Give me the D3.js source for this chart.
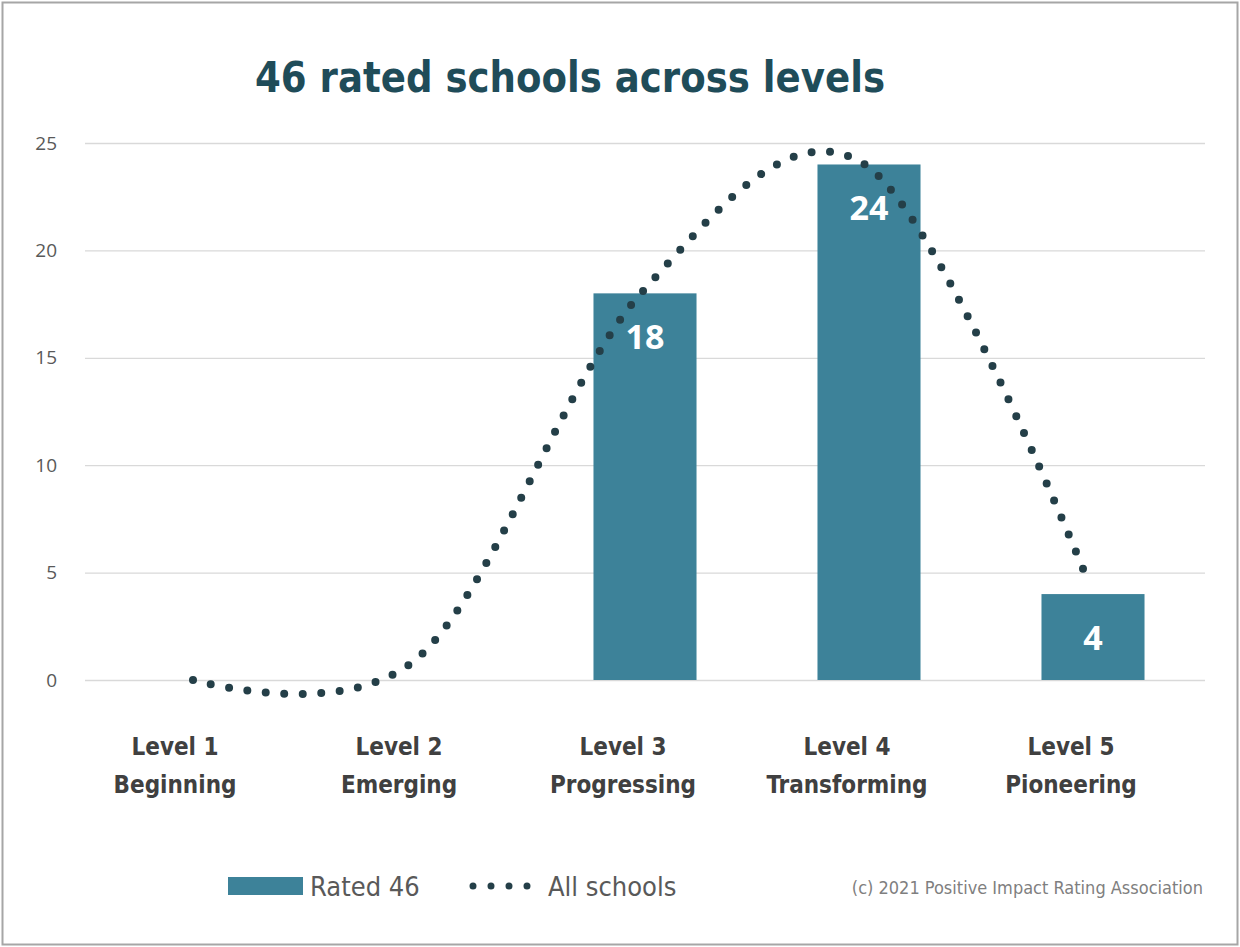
<!DOCTYPE html>
<html>
<head>
<meta charset="utf-8">
<script src="https://cdn.jsdelivr.net/npm/d3@7"></script>
<style>
  body { margin: 0; background: #fff; }
</style>
</head>
<body>
<div class="canvas"></div>
<script>
// data
const levels = ["Level 1", "Level 2", "Level 3", "Level 4", "Level 5"];
const levelNames = ["Beginning", "Emerging", "Progressing", "Transforming", "Pioneering"];
const rated46 = [0, 0, 18, 24, 4];
const allSchools = [0, 1, 18, 24, 4.5];
const yTicks = [0, 5, 10, 15, 20, 25];

const W = 1240, H = 947;
const barColor = "#3d8299";
const dotColor = "#243f48";

const svg = d3.select(".canvas").append("svg")
  .attr("width", W)
  .attr("height", H);

// outer frame
svg.append("rect")
  .attr("x", 2.5).attr("y", 2.5)
  .attr("width", W - 5).attr("height", H - 5)
  .attr("fill", "#fff")
  .attr("stroke", "#a6a6a6")
  .attr("stroke-width", 2);

// title
svg.append("text")
  .attr("x", 255)
  .attr("y", 92)
  .attr("fill", "#1f4c59")
  .attr("font-family", "DejaVu Sans Condensed, DejaVu Sans")
  .attr("font-weight", "bold")
  .attr("font-size", 42)
  .attr("textLength", 630)
  .attr("lengthAdjust", "spacingAndGlyphs")
  .text("46 rated schools across levels");

const x = d3.scaleBand()
  .domain(levels)
  .range([85, 1205])
  .paddingInner(0.54)
  .paddingOuter(0.27);

const y = d3.scaleLinear()
  .domain([0, 25])
  .range([680, 143]);

// gridlines + y labels
const yAxis = svg.append("g")
  .attr("transform", "translate(85,0)")
  .call(d3.axisLeft(y).tickValues(yTicks).tickSize(-1120).tickPadding(28));
yAxis.select(".domain").remove();
yAxis.selectAll(".tick line").attr("stroke", "#d9d9d9").attr("stroke-width", 1.3);
yAxis.selectAll(".tick text")
  .attr("fill", "#595959")
  .attr("font-family", "Open Sans, sans-serif")
  .attr("font-size", 19);

// bars
svg.append("g")
  .selectAll("rect")
  .data(rated46)
  .join("rect")
  .attr("x", (d, i) => x(levels[i]))
  .attr("y", d => y(d))
  .attr("width", x.bandwidth())
  .attr("height", d => y(0) - y(d))
  .attr("fill", barColor);

// bar value labels
svg.append("g")
  .selectAll("text")
  .data(rated46.map((v, i) => ({ v, i })).filter(d => d.v > 0))
  .join("text")
  .attr("x", d => x(levels[d.i]) + x.bandwidth() / 2)
  .attr("y", d => y(d.v) + 56)
  .attr("text-anchor", "middle")
  .attr("fill", "#fff")
  .attr("font-family", "Open Sans, sans-serif")
  .attr("font-weight", "bold")
  .attr("font-size", 34)
  .text(d => d.v);

// dotted smooth line
const line = d3.line()
  .x((d, i) => x(levels[i]) + x.bandwidth() / 2 - 4)
  .y(d => y(d))
  .curve(d3.curveCardinal.tension(0));

svg.append("path")
  .datum(allSchools)
  .attr("d", line)
  .attr("fill", "none")
  .attr("stroke", dotColor)
  .attr("stroke-width", 8)
  .attr("stroke-linecap", "round")
  .attr("stroke-dasharray", "0 18.5");

// x labels
const xl = svg.append("g")
  .selectAll("text")
  .data(levels)
  .join("text")
  .attr("x", d => x(d) + x.bandwidth() / 2 - 22)
  .attr("text-anchor", "middle")
  .attr("fill", "#404040")
  .attr("font-family", "Liberation Sans Narrow, DejaVu Sans Condensed, sans-serif")
  .attr("font-weight", "bold")
  .attr("font-size", 24);
xl.append("tspan").attr("y", 755).text(d => d);
xl.append("tspan")
  .attr("x", d => x(d) + x.bandwidth() / 2 - 22)
  .attr("y", 793)
  .text((d, i) => levelNames[i]);

// legend
const legend = svg.append("g");
legend.append("rect")
  .attr("x", 228).attr("y", 877)
  .attr("width", 75).attr("height", 18)
  .attr("fill", barColor);
legend.append("text")
  .attr("x", 310).attr("y", 896)
  .attr("fill", "#595959")
  .attr("font-family", "Liberation Sans Narrow, DejaVu Sans Condensed, sans-serif")
  .attr("font-size", 27)
  .text("Rated 46");
legend.append("line")
  .attr("x1", 473).attr("x2", 528)
  .attr("y1", 886).attr("y2", 886)
  .attr("stroke", dotColor)
  .attr("stroke-width", 7)
  .attr("stroke-linecap", "round")
  .attr("stroke-dasharray", "0 18");
legend.append("text")
  .attr("x", 548).attr("y", 896)
  .attr("fill", "#595959")
  .attr("font-family", "Liberation Sans Narrow, DejaVu Sans Condensed, sans-serif")
  .attr("font-size", 27)
  .text("All schools");

svg.append("text")
  .attr("x", 1203).attr("y", 894)
  .attr("text-anchor", "end")
  .attr("fill", "#7f7f7f")
  .attr("font-family", "Liberation Sans Narrow, DejaVu Sans Condensed, sans-serif")
  .attr("font-size", 18)
  .text("(c) 2021 Positive Impact Rating Association");
</script>
</body>
</html>
